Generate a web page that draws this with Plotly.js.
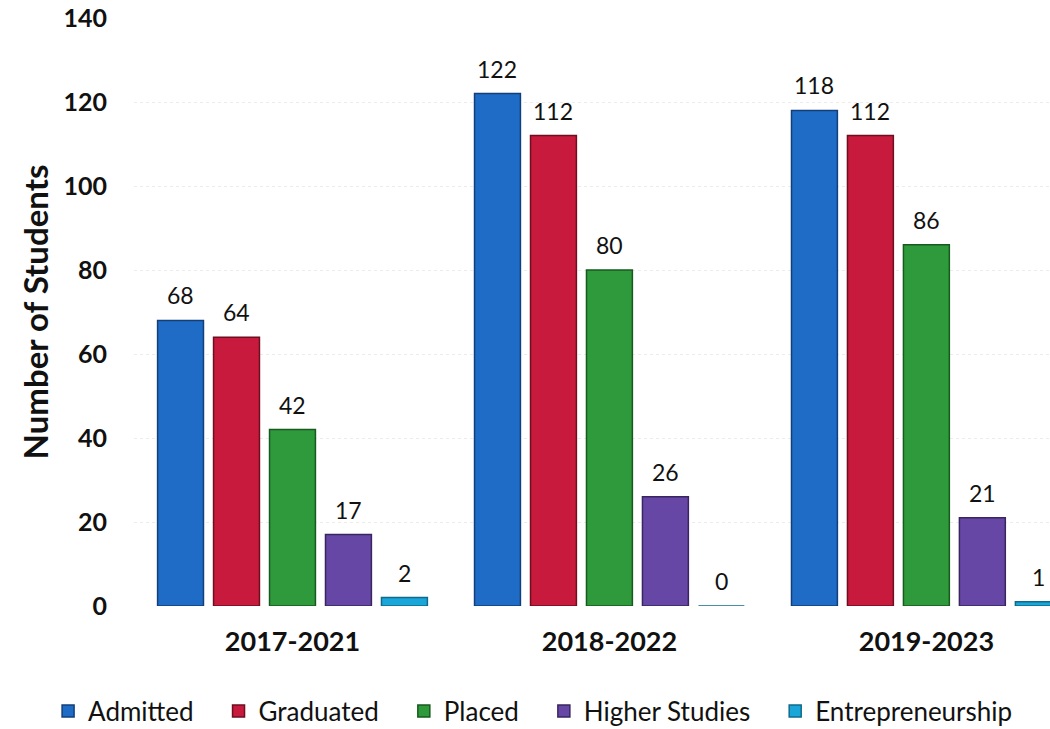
<!DOCTYPE html>
<html>
<head>
<meta charset="utf-8">
<script src="https://cdn.plot.ly/plotly-3.0.1.min.js"></script>
<style>html,body{margin:0;padding:0;background:#fff;}#chart{width:1050px;height:729px;}</style>
</head>
<body>
<div id="chart"></div>
<script>
const categories = ["2017-2021", "2018-2022", "2019-2023"];
const seriesNames = ["Admitted", "Graduated", "Placed", "Higher Studies", "Entrepreneurship"];
const admitted = [68, 122, 118];
const graduated = [64, 112, 112];
const placed = [42, 80, 86];
const higherStudies = [17, 26, 21];
const entrepreneurship = [2, 0, 1];
const yTicks = [0, 20, 40, 60, 80, 100, 120, 140];

const seriesValues = [admitted, graduated, placed, higherStudies, entrepreneurship];
const colors = ["#1f6cc6", "#c81a3c", "#2f9a3c", "#6647a6", "#1ba6d9"];
const lines = ["#123f7a", "#6e0e20", "#175a1f", "#392660", "#0f6a8c"];

const FONT = "Lato, 'Open Sans', sans-serif";
const PAD = "\u00a0\u00a0\u00a0";

const traces = seriesValues.map((vals, i) => ({
  type: "bar",
  name: seriesNames[i] + (i < seriesNames.length - 1 ? PAD : ""),
  x: categories,
  y: vals,
  marker: { color: colors[i], line: { color: lines[i], width: 1.5 } },
  hoverinfo: "x+y"
}));

// plot geometry used for label offsets
const W = 1050, ML = 134, MR = 0;
const xRange = [-0.5, 2.39];
const pxPerCat = (W - ML - MR) / (xRange[1] - xRange[0]);
const bargap = 0.117;
const slot = pxPerCat * (1 - bargap) / seriesNames.length;

const annotations = [];
seriesValues.forEach((vals, i) => {
  vals.forEach((v, j) => {
    annotations.push({
      x: categories[j], y: v, xref: "x", yref: "y",
      text: String(v), showarrow: false,
      xshift: (i - (seriesNames.length - 1) / 2) * slot,
      yshift: 25,
      font: { family: FONT, size: 23, color: "#111" }
    });
  });
});

const layout = {
  width: 1050, height: 729,
  paper_bgcolor: "#fff", plot_bgcolor: "#fff",
  margin: { l: ML, r: MR, t: 18, b: 123, autoexpand: false },
  barmode: "group",
  bargap: bargap,
  bargroupgap: 0.18,
  font: { family: FONT, color: "#111" },
  xaxis: {
    type: "category",
    range: xRange,
    showgrid: false, zeroline: false, showline: false,
    ticks: "",
    ticklabelstandoff: 17,
    tickfont: { family: FONT, size: 27, color: "#111", weight: "bold" }
  },
  yaxis: {
    range: [0, 140],
    tickvals: yTicks,
    ticktext: yTicks.map(String),
    showgrid: true, gridcolor: "#ececec", griddash: "dot", gridwidth: 1,
    zeroline: false, showline: false, ticks: "",
    ticklabelstandoff: 26,
    tickfont: { family: FONT, size: 25, color: "#111", weight: "bold" },
    title: { text: "Number of Students", standoff: 4,
      font: { family: FONT, size: 33, color: "#111", weight: "bold" } }
  },
  showlegend: true,
  legend: {
    orientation: "h",
    xref: "paper", yref: "paper",
    x: -0.0938, xanchor: "left",
    y: -0.1786, yanchor: "middle",
    font: { family: FONT, size: 26, color: "#111" },
    itemwidth: 30,
    traceorder: "normal"
  },
  annotations: annotations
};

Plotly.newPlot("chart", traces, layout, { displayModeBar: false, staticPlot: true });
</script>
</body>
</html>
